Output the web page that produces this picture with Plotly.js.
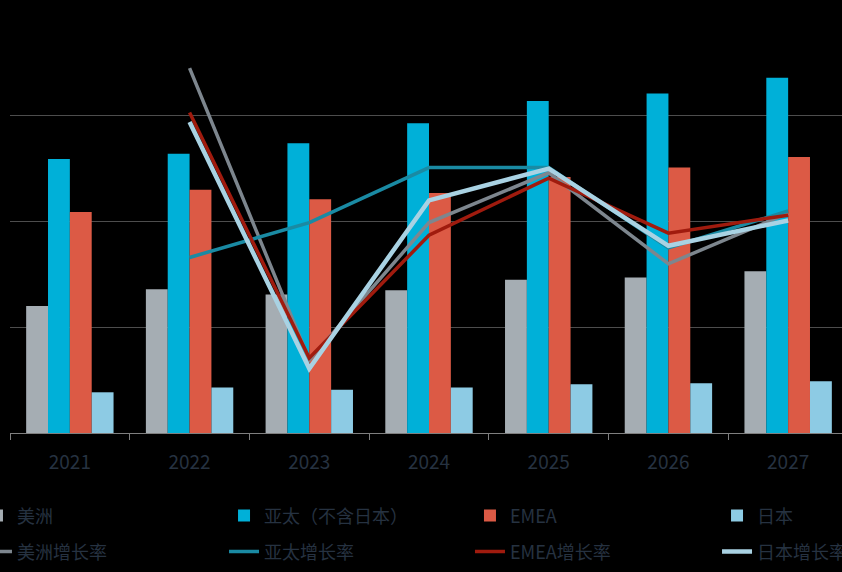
<!DOCTYPE html>
<html>
<head>
<meta charset="utf-8">
<script src="https://cdn.plot.ly/plotly-3.0.1.min.js"></script>
<style>
  html, body { margin: 0; padding: 0; background: #000; overflow: hidden; }
  #chart { width: 850px; height: 572px; }
</style>
</head>
<body>
<div id="chart"></div>
<script>
// Categories
const years = ['2021', '2022', '2023', '2024', '2025', '2026', '2027'];

// Bar series (market size, arbitrary units)
const americas = [120, 136, 131, 135, 145, 147, 153];
const apac     = [259, 264, 274, 293, 314, 321, 336];
const emea     = [209, 230, 221, 227, 242, 251, 261];
const japan    = [38.5, 43, 41, 43, 46, 47, 49];

// Growth-rate series (%) — no value for 2021
const americasGrowth = [null, 19.5, -8.1, 4.9, 9.6, 1.0, 5.8];
const apacGrowth     = [null, 1.6, 4.9, 10.1, 10.1, 2.5, 6.0];
const emeaGrowth     = [null, 15.3, -7.9, 3.7, 9.1, 3.9, 5.6];
const japanGrowth    = [null, 14.4, -8.9, 7.0, 10.0, 2.7, 5.1];

// Names
const barNames  = ['美洲', '亚太（不含日本）', 'EMEA', '日本'];
const lineNames = ['美洲增长率', '亚太增长率', 'EMEA增长率', '日本增长率'];

const barColors  = ['#a5adb3', '#00b0d8', '#dc5a45', '#8dcbe4'];
const lineColors = ['#7d868e', '#1a8aa3', '#a01b0e', '#a9d2e3'];
const lineWidths = [3.5, 3.5, 3.5, 4.5];

const barData  = [americas, apac, emea, japan];
const lineData = [americasGrowth, apacGrowth, emeaGrowth, japanGrowth];

// one legend box per legend entry (columns x rows)
const legendIds = ['legend', 'legend2', 'legend3', 'legend4', 'legend5', 'legend6', 'legend7', 'legend8'];

const traces = [];
barData.forEach((vals, i) => {
  traces.push({
    type: 'bar', x: years, y: vals, name: barNames[i],
    marker: { color: barColors[i] }, legend: legendIds[i]
  });
});
lineData.forEach((vals, i) => {
  traces.push({
    type: 'scatter', mode: 'lines', x: years, y: vals, name: lineNames[i],
    yaxis: 'y2', line: { color: lineColors[i], width: lineWidths[i] },
    connectgaps: false, legend: legendIds[4 + i]
  });
});

const textColor = '#263241';
const font = { family: '"Noto Sans CJK SC", "Noto Sans", sans-serif', size: 18, color: textColor };

const colX = [-0.0394, 0.2554, 0.5489, 0.8437];
const rowY = [-0.196, -0.281];

const layout = {
  width: 850, height: 572,
  margin: { l: 10, r: 2, t: 10, b: 139, autoexpand: false },
  paper_bgcolor: '#000', plot_bgcolor: '#000',
  font: font,
  barmode: 'group', bargap: 0.27, bargroupgap: 0,
  showlegend: true,
  xaxis: {
    type: 'category', tickson: 'boundaries', ticks: 'outside', ticklen: 6,
    tickcolor: '#7f7f7f', showline: true, linecolor: '#7f7f7f', linewidth: 1,
    showgrid: false, tickfont: { family: font.family, size: 19, color: textColor },
    ticklabelstandoff: 12, range: [-0.5, 6.5], fixedrange: true
  },
  yaxis: {
    range: [0, 400], dtick: 100, showticklabels: false, showgrid: true,
    gridcolor: '#4d4d4d', gridwidth: 1, zeroline: false, fixedrange: true
  },
  yaxis2: {
    overlaying: 'y', side: 'right', range: [-15, 25], showgrid: false,
    showticklabels: false, zeroline: false, fixedrange: true
  }
};

legendIds.forEach((id, k) => {
  layout[id] = {
    orientation: 'h', xanchor: 'left', yanchor: 'middle',
    x: colX[k % 4], y: rowY[Math.floor(k / 4)],
    bgcolor: 'rgba(0,0,0,0)', font: font
  };
});

Plotly.newPlot('chart', traces, layout, { displayModeBar: false, staticPlot: true });
</script>
</body>
</html>
